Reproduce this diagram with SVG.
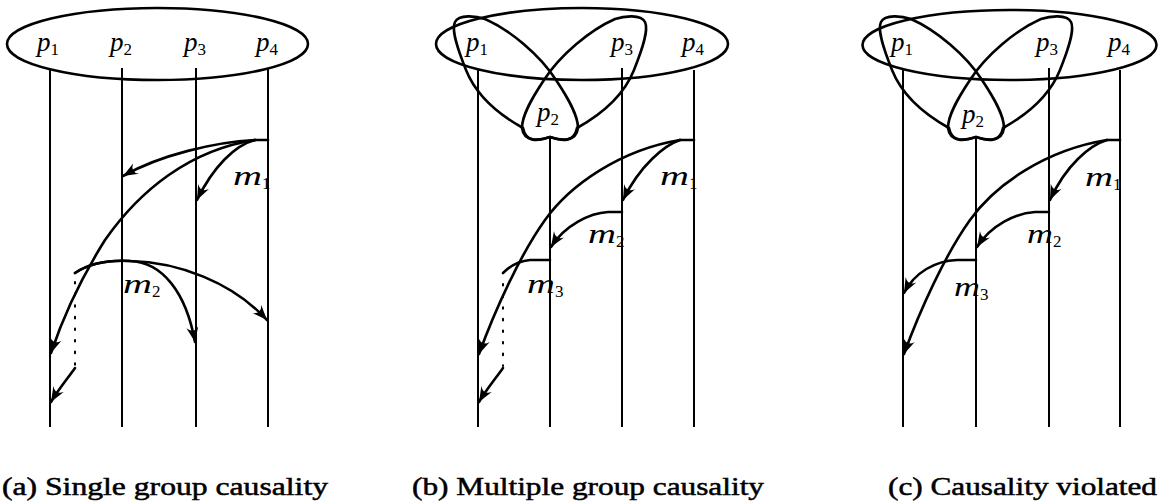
<svg xmlns="http://www.w3.org/2000/svg" width="1158" height="504" viewBox="0 0 1158 504">
<style>
.bg{fill:#fff}
.ell{fill:none;stroke:#000;stroke-width:2.6}
.pet{fill:none;stroke:#000;stroke-width:2.6;stroke-linejoin:round}
.life{stroke:#000;stroke-width:2}
.msg{fill:none;stroke:#000;stroke-width:2.6;stroke-linecap:round}
.arr{marker-end:url(#ah)}
.dot{fill:none;stroke:#000;stroke-width:2;stroke-dasharray:1.6 10;stroke-linecap:round}
.lbl{font-style:italic;font-size:27px;fill:#000}
.sub{font-style:normal;font-size:17px}
.cap{font-size:25px;fill:#000;stroke:#000;stroke-width:0.5}
</style>
<defs>
<marker id="ah" markerUnits="userSpaceOnUse" viewBox="-16 -8 18 16" refX="0" refY="0" markerWidth="18" markerHeight="16" orient="auto">
<path d="M0,0 L-15,-6 Q-8,0 -15,6 Z" fill="#000"/>
</marker>
<path id="petA" d="M550,137 C538,141 526,143 523,128 C505,118 478,100 466,70 C458,50 451,30 455,22 C459,14 476,16 485,19 C510,30 540,55 556,80 C568,98 578,115 578,128 C576,142 562,141 550,137 Z"/>
</defs>
<rect class="bg" width="1158" height="504"/>
<g font-family="'Liberation Serif', 'Times New Roman', Times, serif">

<!-- Panel (a) -->
<g id="panel-a">
<g id="a-group"><ellipse class="ell" cx="157.5" cy="44" rx="150.5" ry="36"/></g>
<g id="a-p1"><line class="life" x1="50" y1="70" x2="50" y2="427"/><text class="lbl" x="37" y="51">p<tspan class="sub" dy="4">1</tspan></text></g>
<g id="a-p2"><line class="life" x1="122" y1="68" x2="122" y2="427"/><text class="lbl" x="110" y="51">p<tspan class="sub" dy="4">2</tspan></text></g>
<g id="a-p3"><line class="life" x1="196" y1="68" x2="196" y2="427"/><text class="lbl" x="184" y="51">p<tspan class="sub" dy="4">3</tspan></text></g>
<g id="a-p4"><line class="life" x1="268" y1="68" x2="268" y2="427"/><text class="lbl" x="256" y="51">p<tspan class="sub" dy="4">4</tspan></text></g>
<g id="a-connectors">
<path class="msg" d="M268,140 L255,140"/>
<path class="msg arr" d="M255,140 C215,142 160,155 123,176"/>
<path class="msg arr" d="M255,140 C235,145 213,167 197,200"/>
<path class="msg arr" d="M255,140 C190,150 140,190 105,240 C80,280 62,320 51,353"/>
<path class="msg arr" d="M75,273 C90,263 110,260 130,261 C162,262 186,292 195,342"/>
<path class="msg arr" d="M75,273 C90,263 110,260 130,261 C178,262 232,282 267,320"/>
<path class="dot" d="M75,282 L75,366"/>
<path class="msg arr" d="M75,368 C68,378 58,390 51,402"/>
</g>
<g id="a-labels">
<text class="lbl" x="233" y="185"><tspan textLength="29" lengthAdjust="spacingAndGlyphs">m</tspan><tspan class="sub" dy="4">1</tspan></text>
<text class="lbl" x="123" y="293"><tspan textLength="29" lengthAdjust="spacingAndGlyphs">m</tspan><tspan class="sub" dy="4">2</tspan></text>
</g>
</g>

<!-- Panel (b) -->
<g id="panel-b">
<g id="b-group"><ellipse class="ell" cx="582" cy="44" rx="146" ry="36"/></g>
<g id="b-group-12"><use href="#petA" class="pet"/></g>
<g id="b-group-23"><use href="#petA" class="pet" transform="translate(1100,0) scale(-1,1)"/></g>
<g id="b-p1"><line class="life" x1="478" y1="70" x2="478" y2="427"/><text class="lbl" x="466" y="51">p<tspan class="sub" dy="4">1</tspan></text></g>
<g id="b-p2"><line class="life" x1="550" y1="137" x2="550" y2="427"/><text class="lbl" x="537" y="121">p<tspan class="sub" dy="4">2</tspan></text></g>
<g id="b-p3"><line class="life" x1="622" y1="68" x2="622" y2="427"/><text class="lbl" x="611" y="51">p<tspan class="sub" dy="4">3</tspan></text></g>
<g id="b-p4"><line class="life" x1="694" y1="70" x2="694" y2="427"/><text class="lbl" x="682" y="51">p<tspan class="sub" dy="4">4</tspan></text></g>
<g id="b-connectors">
<path class="msg" d="M694,140 L680,140"/>
<path class="msg arr" d="M680,140 C665,145 640,165 623,200"/>
<path class="msg arr" d="M680,140 C620,150 570,185 545,220 C520,255 495,310 479,354"/>
<path class="msg arr" d="M622,212 L608,212 C590,213 565,225 551,247"/>
<path class="msg" d="M550,260 L530,260 C518,261 510,266 503,273"/>
<path class="dot" d="M503,284 L503,366"/>
<path class="msg arr" d="M503,368 C496,378 486,390 479,402"/>
</g>
<g id="b-labels">
<text class="lbl" x="660" y="185"><tspan textLength="29" lengthAdjust="spacingAndGlyphs">m</tspan><tspan class="sub" dy="4">1</tspan></text>
<text class="lbl" x="588" y="243"><tspan textLength="28" lengthAdjust="spacingAndGlyphs">m</tspan><tspan class="sub" dy="4">2</tspan></text>
<text class="lbl" x="527" y="293"><tspan textLength="28" lengthAdjust="spacingAndGlyphs">m</tspan><tspan class="sub" dy="4">3</tspan></text>
</g>
</g>

<!-- Panel (c) -->
<g id="panel-c">
<g id="c-group"><ellipse class="ell" cx="1009.5" cy="45" rx="147" ry="35"/></g>
<g id="c-group-12"><use href="#petA" class="pet" transform="translate(426,0)"/></g>
<g id="c-group-23"><use href="#petA" class="pet" transform="translate(1526,0) scale(-1,1)"/></g>
<g id="c-p1"><line class="life" x1="903" y1="70" x2="903" y2="427"/><text class="lbl" x="891" y="51">p<tspan class="sub" dy="4">1</tspan></text></g>
<g id="c-p2"><line class="life" x1="976" y1="137" x2="976" y2="427"/><text class="lbl" x="962" y="123">p<tspan class="sub" dy="4">2</tspan></text></g>
<g id="c-p3"><line class="life" x1="1049" y1="68" x2="1049" y2="427"/><text class="lbl" x="1036" y="51">p<tspan class="sub" dy="4">3</tspan></text></g>
<g id="c-p4"><line class="life" x1="1120" y1="70" x2="1120" y2="427"/><text class="lbl" x="1108" y="51">p<tspan class="sub" dy="4">4</tspan></text></g>
<g id="c-connectors">
<path class="msg" d="M1120,140 L1107,140"/>
<path class="msg arr" d="M1107,140 C1090,145 1066,165 1050,200"/>
<path class="msg arr" d="M1107,140 C1045,150 995,185 970,220 C945,255 920,310 904,354"/>
<path class="msg arr" d="M1049,212 L1035,212 C1016,213 991,225 977,247"/>
<path class="msg arr" d="M976,260 L957,260 C935,261 915,272 904,293"/>
</g>
<g id="c-labels">
<text class="lbl" x="1085" y="186"><tspan textLength="28" lengthAdjust="spacingAndGlyphs">m</tspan><tspan class="sub" dy="4">1</tspan></text>
<text class="lbl" x="1027" y="243"><tspan textLength="26" lengthAdjust="spacingAndGlyphs">m</tspan><tspan class="sub" dy="4">2</tspan></text>
<text class="lbl" x="954" y="296"><tspan textLength="26" lengthAdjust="spacingAndGlyphs">m</tspan><tspan class="sub" dy="4">3</tspan></text>
</g>
</g>

<g id="captions">
<text class="cap" x="2" y="495" textLength="326" lengthAdjust="spacingAndGlyphs">(a) Single group causality</text>
<text class="cap" x="412" y="495" textLength="352" lengthAdjust="spacingAndGlyphs">(b) Multiple group causality</text>
<text class="cap" x="888" y="495" textLength="269" lengthAdjust="spacingAndGlyphs">(c) Causality violated</text>
</g>
</g>
</svg>
